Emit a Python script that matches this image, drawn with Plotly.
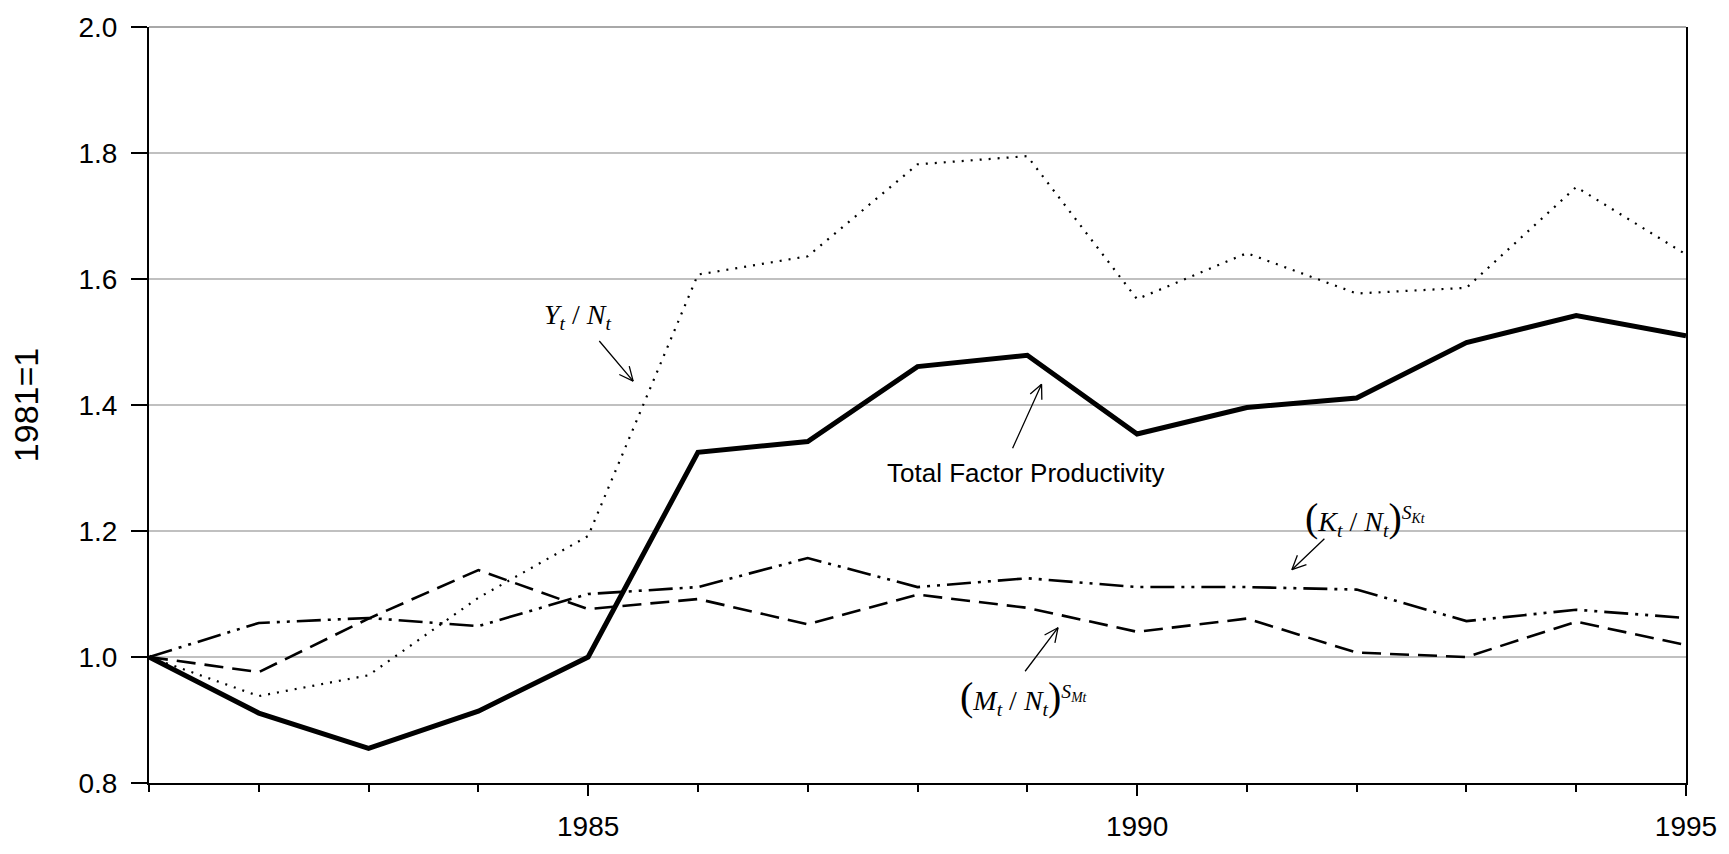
import math
import plotly.graph_objects as go

years = list(range(1981, 1996))
tfp = [1.0, 0.911, 0.855, 0.914, 1.0, 1.325, 1.342, 1.461, 1.479, 1.354, 1.396, 1.411, 1.499, 1.542, 1.51]
y_n = [1.0, 0.938, 0.971, 1.094, 1.192, 1.607, 1.636, 1.782, 1.795, 1.568, 1.641, 1.577, 1.586, 1.746, 1.639]
k_n = [1.0, 1.054, 1.062, 1.049, 1.100, 1.111, 1.157, 1.111, 1.125, 1.111, 1.111, 1.107, 1.057, 1.075, 1.062]
m_n = [1.0, 0.976, 1.061, 1.138, 1.076, 1.092, 1.052, 1.099, 1.078, 1.040, 1.061, 1.007, 1.0, 1.056, 1.019]

y_title = "1981=1"
x_tickvals = [1985, 1990, 1995]

W, H = 1729, 854
ML, MR, MT, MB = 149, 41, 24, 61
X_RANGE = [1981, 1995]
Y_RANGE = [0.8, 2.0]

fig = go.Figure()
fig.add_trace(go.Scatter(x=years, y=y_n, mode="lines", name="Y/N",
                         line=dict(color="black", width=2.2, dash="2px,7px")))
fig.add_trace(go.Scatter(x=years, y=m_n, mode="lines", name="M/N",
                         line=dict(color="black", width=2.6, dash="19px,9px")))
fig.add_trace(go.Scatter(x=years, y=k_n, mode="lines", name="K/N",
                         line=dict(color="black", width=2.6, dash="24px,7px,3px,7px,3px,7px")))
fig.add_trace(go.Scatter(x=years, y=tfp, mode="lines", name="TFP",
                         line=dict(color="black", width=5)))

serif = dict(family="Liberation Serif, Times New Roman, serif", size=28, color="black")
sans = dict(family="Liberation Sans, Arial, sans-serif", size=26, color="black")

P_OPEN = '<span style="font-size:40px">(</span>'
P_CLOSE = '<span style="font-size:40px">)</span>'

labels = [
    ("<i>Y</i><sub><i>t</i></sub> / <i>N</i><sub><i>t</i></sub>", 1984.91, 1.541, serif),
    ("Total Factor Productivity", 1988.98, 1.2915, sans),
    (P_OPEN + "<i>K</i><sub><i>t</i></sub> / <i>N</i><sub><i>t</i></sub>" + P_CLOSE
     + "<sup><i>S</i><sub><i>Kt</i></sub></sup>", 1992.08, 1.221, serif),
    (P_OPEN + "<i>M</i><sub><i>t</i></sub> / <i>N</i><sub><i>t</i></sub>" + P_CLOSE
     + "<sup><i>S</i><sub><i>Mt</i></sub></sup>", 1988.97, 0.936, serif),
]
arrows = [
    # tail x, tail y, head x, head y
    (1985.09, 1.504, 1985.41, 1.438),
    (1988.86, 1.329, 1989.13, 1.433),
    (1991.72, 1.190, 1991.41, 1.1386),
    (1988.97, 0.975, 1989.28, 1.0465),
]

# pixel scale of the plot area (for drawing open "V" arrow heads)
px_per_x = (W - ML - MR) / (X_RANGE[1] - X_RANGE[0])
px_per_y = (H - MT - MB) / (Y_RANGE[1] - Y_RANGE[0])

annotations = []
for text, x, y, f in labels:
    annotations.append(dict(text=text, x=x, y=y, xref="x", yref="y", showarrow=False,
                            xanchor="center", yanchor="middle", font=f))
for tx, ty, hx, hy in arrows:
    annotations.append(dict(text="", x=hx, y=hy, ax=tx, ay=ty, xref="x", yref="y",
                            axref="x", ayref="y", showarrow=True, arrowhead=0,
                            arrowwidth=1.3, arrowcolor="black"))
    dx = (tx - hx) * px_per_x
    dy = -(ty - hy) * px_per_y
    n = math.hypot(dx, dy)
    ux, uy = dx / n, dy / n
    for ang in (25, -25):
        a = math.radians(ang)
        vx = ux * math.cos(a) - uy * math.sin(a)
        vy = ux * math.sin(a) + uy * math.cos(a)
        annotations.append(dict(text="", x=hx, y=hy, ax=vx * 17, ay=vy * 17,
                                xref="x", yref="y", showarrow=True, arrowhead=0,
                                arrowwidth=1.3, arrowcolor="black"))

fig.update_layout(
    width=W, height=H,
    margin=dict(l=ML, r=MR, t=MT, b=MB),
    plot_bgcolor="white", paper_bgcolor="white",
    showlegend=False,
    font=dict(family="Liberation Sans, Arial, sans-serif", size=28, color="black"),
    annotations=annotations,
    shapes=[dict(type="line", xref="paper", yref="paper", x0=0, x1=1, y0=1, y1=1,
                 line=dict(color="#a8a8a8", width=2), layer="below")],
)
fig.update_xaxes(
    range=X_RANGE, tickvals=x_tickvals, ticks="outside", ticklen=11, tickwidth=2,
    tickcolor="black", showline=True, linecolor="black", linewidth=2, showgrid=False,
    zeroline=False, ticklabelstandoff=6,
    minor=dict(dtick=1, tick0=1981, ticks="outside", ticklen=7, tickwidth=2, tickcolor="black"),
    tickfont=dict(size=28),
)
fig.update_yaxes(
    range=Y_RANGE, dtick=0.2, tick0=0.8, tickformat=".1f", ticks="outside", ticklen=16,
    tickwidth=2, tickcolor="black", showline=True, linecolor="black", linewidth=2,
    mirror=True, showgrid=True, gridcolor="#c0c0c0", gridwidth=2, zeroline=False,
    ticklabelstandoff=8, tickfont=dict(size=28),
    title=dict(text=y_title, font=dict(size=34), standoff=30),
)

fig.write_html("out.html", config={"displayModeBar": False},
               post_script="document.body.style.margin='0';")
